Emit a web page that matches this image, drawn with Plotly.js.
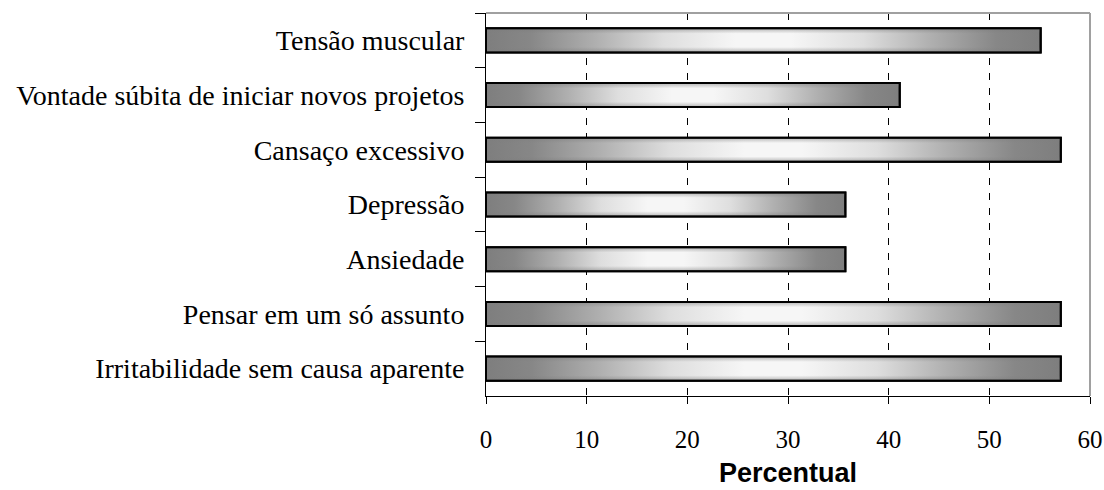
<!DOCTYPE html>
<html>
<head>
<meta charset="utf-8">
<script src="https://cdn.plot.ly/plotly-3.0.1.min.js"></script>
<style>
  html, body { margin: 0; padding: 0; background: #fff; }
  #chart { width: 1104px; height: 490px; }
</style>
</head>
<body>
<div id="chart"></div>
<script>
const categories = [
  'Tensão muscular',
  'Vontade súbita de iniciar novos projetos',
  'Cansaço excessivo',
  'Depressão',
  'Ansiedade',
  'Pensar em um só assunto',
  'Irritabilidade sem causa aparente'
];
const values = [55.1, 41.1, 57.1, 35.7, 35.7, 57.1, 57.1];
const xTicks = [0, 10, 20, 30, 40, 50, 60];
const xTitle = 'Percentual';

const trace = {
  type: 'bar',
  orientation: 'h',
  x: values,
  y: categories,
  marker: { color: '#b4b4b4', line: { color: '#000', width: 2 } },
  hoverinfo: 'x+y'
};

const layout = {
  width: 1104,
  height: 490,
  margin: { l: 486, r: 14, t: 13, b: 94 },
  paper_bgcolor: '#fff',
  plot_bgcolor: '#fff',
  showlegend: false,
  bargap: 0.56,
  xaxis: {
    range: [0, 60],
    tickvals: xTicks,
    ticktext: xTicks.map(String),
    showgrid: true,
    gridcolor: '#000',
    gridwidth: 1,
    griddash: '7px,8px',
    zeroline: false,
    showline: true,
    linecolor: '#000',
    linewidth: 1,
    ticks: 'outside',
    ticklen: 7,
    tickcolor: '#000',
    tickwidth: 1,
    ticklabelstandoff: 14,
    tickfont: { family: 'Liberation Serif, Times New Roman, serif', size: 25, color: '#000' },
    fixedrange: true
  },
  yaxis: {
    type: 'category',
    autorange: 'reversed',
    tickson: 'boundaries',
    ticks: 'outside',
    ticklen: 10,
    tickcolor: '#000',
    tickwidth: 1,
    ticklabelstandoff: 15,
    showgrid: false,
    zeroline: false,
    showline: true,
    linecolor: '#000',
    linewidth: 1,
    tickfont: { family: 'Liberation Serif, Times New Roman, serif', size: 28, color: '#000' },
    fixedrange: true
  },
  annotations: [
    { text: xTitle, xref: 'paper', yref: 'paper', x: 0.5, y: 0, xanchor: 'center', yanchor: 'bottom',
      yshift: -94, showarrow: false,
      font: { family: 'Liberation Sans, Arial, sans-serif', size: 27, color: '#000', weight: 'bold' } }
  ],
  shapes: [
    { type: 'line', xref: 'paper', yref: 'paper', x0: 0, x1: 1, y0: 1, y1: 1,
      line: { color: '#a0a0a0', width: 2 }, layer: 'above' },
    { type: 'line', xref: 'paper', yref: 'paper', x0: 1, x1: 1, y0: 0, y1: 1,
      line: { color: '#a0a0a0', width: 2 }, layer: 'above' }
  ]
};

Plotly.newPlot('chart', [trace], layout, { displayModeBar: false, staticPlot: true }).then(function (gd) {
  const svg = gd.querySelector('svg.main-svg');
  const NS = 'http://www.w3.org/2000/svg';
  let defs = svg.querySelector('defs');
  if (!defs) { defs = document.createElementNS(NS, 'defs'); svg.insertBefore(defs, svg.firstChild); }

  function makeGrad(id, x2, y2, stops) {
    const g = document.createElementNS(NS, 'linearGradient');
    g.setAttribute('id', id);
    g.setAttribute('x1', '0'); g.setAttribute('y1', '0');
    g.setAttribute('x2', x2); g.setAttribute('y2', y2);
    stops.forEach(function (s) {
      const st = document.createElementNS(NS, 'stop');
      st.setAttribute('offset', s[0]);
      st.setAttribute('stop-color', s[1]);
      st.setAttribute('stop-opacity', s[2] === undefined ? 1 : s[2]);
      g.appendChild(st);
    });
    defs.appendChild(g);
  }
  makeGrad('barGradH', '1', '0', [
    [0, '#7e7e7e'], [0.08, '#878787'], [0.2, '#b0b0b0'], [0.32, '#dedede'],
    [0.45, '#f6f6f6'], [0.55, '#f6f6f6'], [0.68, '#dedede'], [0.8, '#b0b0b0'],
    [0.92, '#878787'], [1, '#7e7e7e']
  ]);
  makeGrad('barGradV', '0', '1', [
    [0, '#7e7e7e', 0.55], [0.22, '#7e7e7e', 0.0], [0.78, '#7e7e7e', 0.0], [1, '#7e7e7e', 0.55]
  ]);

  gd.querySelectorAll('.barlayer .point path').forEach(function (p) {
    p.style.fill = 'url(#barGradH)';
    p.style.fillOpacity = 1;
    const ov = p.cloneNode(false);
    ov.style.fill = 'url(#barGradV)';
    ov.style.stroke = '#000';
    ov.style.strokeWidth = '2px';
    p.parentNode.insertBefore(ov, p.nextSibling);
  });
});
</script>
</body>
</html>
